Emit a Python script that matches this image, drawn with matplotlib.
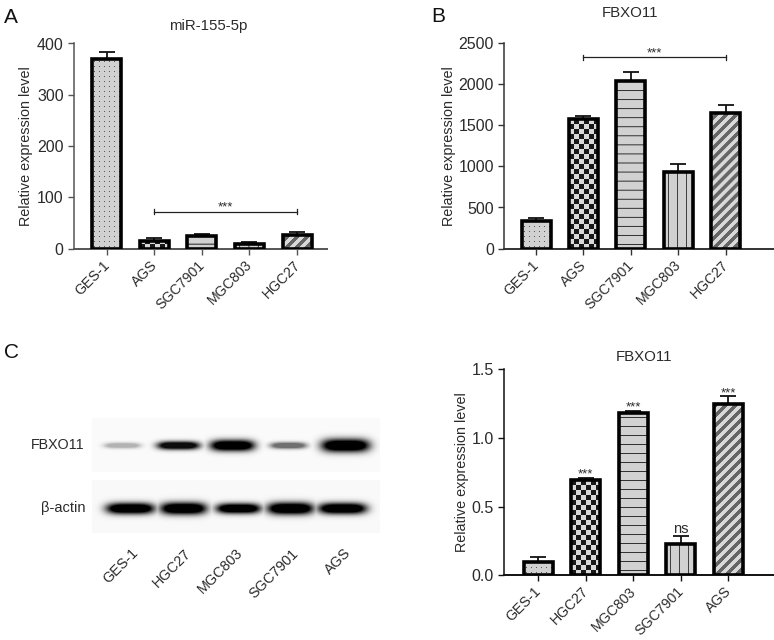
import numpy as np
import matplotlib
matplotlib.use("Agg")
import matplotlib.pyplot as plt
from matplotlib.transforms import ScaledTranslation

plt.rcParams["font.family"] = ["Liberation Sans", "DejaVu Sans"]

W, H = 774, 640

# panel A
a_labels = ["GES-1", "AGS", "SGC7901", "MGC803", "HGC27"]
a_values = [370, 15, 24, 10, 27]
a_errors = [13, 5, 5, 4, 6]
a_patterns = ["dots", "checker", "hlines", "vlines", "diag"]

# panel B
b_labels = ["GES-1", "AGS", "SGC7901", "MGC803", "HGC27"]
b_values = [334, 1572, 2041, 925, 1641]
b_errors = [34, 42, 102, 99, 102]
b_patterns = ["dots", "checker", "hlines", "vlines", "diag"]

# panel C, bar chart
c_labels = ["GES-1", "HGC27", "MGC803", "SGC7901", "AGS"]
c_values = [0.099, 0.691, 1.179, 0.227, 1.244]
c_errors = [0.032, 0.020, 0.021, 0.062, 0.059]
c_patterns = ["dots", "checker", "hlines", "vlines", "diag"]
c_marks = ["", "***", "***", "ns", "***"]

# panel C, blot bands (one per lane)
blot_labels = ["GES-1", "HGC27", "MGC803", "SGC7901", "AGS"]
fbxo_strength = [0.28, 0.95, 1.0, 0.55, 1.0]
fbxo_centers = [122, 178, 232, 288, 345]
fbxo_widths = [18, 21, 22, 18, 24]
fbxo_heights = [2.8, 4.0, 5.5, 3.2, 6.5]
actin_strength = [1.0, 1.0, 1.0, 1.0, 1.0]
actin_centers = [130, 183, 238, 290, 342]
actin_widths = [24, 23, 22, 23, 24]
actin_heights = [5.5, 6.0, 5.0, 6.0, 5.5]

TEXT = "#2b2b2b"


def px_axes(fig, left, top, right, bottom):
    return fig.add_axes([left / W, 1 - bottom / H, (right - left) / W, (bottom - top) / H])


def pattern_image(kind, w_px, h_px):
    # grey level image of the bar filling, one value per pixel
    x, y = np.meshgrid(np.arange(w_px), np.arange(h_px))
    img = np.full((h_px, w_px), 0.82)
    if kind == "dots":
        img[(x % 5 == 2) & (y % 5 == 2)] = 0.35
    elif kind == "checker":
        img = np.where((x // 5 + y // 5) % 2 == 0, 0.1, 0.85)
    elif kind == "hlines":
        img[y % 9 == 4] = 0.2
    elif kind == "vlines":
        img[x % 9 == 4] = 0.25
    elif kind == "diag":
        img = np.where((x - y) % 10 < 5, 0.4, 0.85)
    return img


def draw_bars(ax, labels, values, errors, patterns, ymax, yticks, ytick_labels, spine_color, ax_w, ax_h, x_first, x_step, ylabel_px):
    xlim = (-x_first / x_step, (ax_w - x_first) / x_step)
    xs = np.arange(len(values))
    bar_w = 29 / x_step
    for x, v, e, kind in zip(xs, values, errors, patterns):
        ax.errorbar(x, v, yerr=[[0], [e]], color="#111111", lw=1.3, capsize=5.8, capthick=1.3, zorder=2)
        w_px = 29
        h_px = max(int(round(v / ymax * ax_h)), 1)
        ax.imshow(pattern_image(kind, w_px, h_px), cmap="gray", vmin=0, vmax=1, aspect="auto",
                  extent=(x - bar_w / 2, x + bar_w / 2, 0, v), origin="lower", zorder=3)
        ax.bar(x, v, width=bar_w, facecolor="none", edgecolor="#000000", linewidth=2.6, zorder=4)
    ax.set_xlim(xlim)
    ax.set_ylim(0, ymax)
    ax.set_yticks(yticks)
    ax.set_yticklabels(ytick_labels, fontsize=11.5, color=TEXT)
    ax.set_xticks(xs)
    ax.set_xticklabels(labels, rotation=45, ha="right", va="top", rotation_mode="anchor", fontsize=10.2, color=TEXT)
    ax.set_ylabel("Relative expression level", fontsize=10.4, color=TEXT)
    ax.yaxis.set_label_coords(ylabel_px / ax_w, 0.5)
    ax.tick_params(axis="both", length=4.5, width=1.0, color=spine_color, pad=3)
    ax.tick_params(axis="x", pad=2)
    shift = ScaledTranslation(-3 / 72, 0, ax.figure.dpi_scale_trans)
    for lbl in ax.get_xticklabels():
        lbl.set_transform(lbl.get_transform() + shift)
    for side in ["top", "right"]:
        ax.spines[side].set_visible(False)
    ax.spines["left"].set_color(spine_color)
    ax.spines["left"].set_linewidth(1.1)
    ax.spines["bottom"].set_color(spine_color)
    ax.spines["bottom"].set_linewidth(1.4)
    ax.patch.set_alpha(0)


def bracket(ax, x1, x2, y, height):
    ax.plot([x1, x2], [y, y], color="#222222", lw=0.9, zorder=5)
    for x in [x1, x2]:
        ax.plot([x, x], [y - height, y + height], color="#222222", lw=0.9, zorder=5)


def band_layer(xx, yy, center_y, centers, widths, heights, strength):
    layer = np.zeros_like(xx, dtype=float)
    for cx, bw, bh, s in zip(centers, widths, heights, strength):
        band = np.exp(-(np.abs(xx - cx) / bw) ** 4 - (np.abs(yy - center_y) / bh) ** 2)
        layer = np.maximum(layer, s * np.clip(band * 1.5, 0, 1))
    return layer


fig = plt.figure(figsize=(W / 100, H / 100), dpi=100)

# A
ax_a = px_axes(fig, 74, 43.5, 327, 248.7)
draw_bars(ax_a, a_labels, a_values, a_errors, a_patterns, 400, [0, 100, 200, 300, 400],
          ["0", "100", "200", "300", "400"], "#555555", 253, 205.2, 32.7, 47.6, -41)
bracket(ax_a, 1, 4, 72, 5)
ax_a.text(2.5, 81, "***", ha="center", va="center", fontsize=9.5, color=TEXT)
fig.text(208 / W, 1 - 26 / H, "miR-155-5p", ha="center", va="center", fontsize=10.8, color=TEXT)

# B
ax_b = px_axes(fig, 504.3, 42.7, 774, 248.7)
draw_bars(ax_b, b_labels, b_values, b_errors, b_patterns, 2500, [0, 500, 1000, 1500, 2000, 2500],
          ["0", "500", "1000", "1500", "2000", "2500"], "#333333", 269.7, 206, 31.7, 47.4, -48)
bracket(ax_b, 1, 4, 2322, 30)
ax_b.text(2.5, 2370, "***", ha="center", va="center", fontsize=9.5, color=TEXT)
fig.text(630 / W, 1 - 13 / H, "FBXO11", ha="center", va="center", fontsize=10.8, color=TEXT)

# C bars
ax_c = px_axes(fig, 504, 369.3, 774, 575.3)
draw_bars(ax_c, c_labels, c_values, c_errors, c_patterns, 1.5, [0, 0.5, 1.0, 1.5],
          ["0.0", "0.5", "1.0", "1.5"], "#111111", 270, 206, 34, 47.5, -35)
for x, v, e, mark in zip(range(len(c_values)), c_values, c_errors, c_marks):
    if mark == "ns":
        ax_c.text(x, v + e + 0.05, mark, ha="center", va="center", fontsize=10.5, color=TEXT)
    elif mark:
        ax_c.text(x, v + e + 0.022, mark, ha="center", va="center", fontsize=9.5, color=TEXT)
fig.text(644 / W, 1 - 357 / H, "FBXO11", ha="center", va="center", fontsize=10.8, color=TEXT)

# C blot
ax_blot = px_axes(fig, 92, 418, 380, 533)
xx, yy = np.meshgrid(np.arange(92, 380), np.arange(418, 533))
blot = np.ones_like(xx, dtype=float)
blot[(yy < 472)] = 0.98
blot[(yy >= 480)] = 0.975
dark = band_layer(xx, yy, 445, fbxo_centers, fbxo_widths, fbxo_heights, fbxo_strength)
dark = np.maximum(dark, band_layer(xx, yy, 508, actin_centers, actin_widths, actin_heights, actin_strength))
ax_blot.imshow(blot * (1 - dark), cmap="gray", vmin=0, vmax=1, aspect="auto", interpolation="bilinear")
ax_blot.axis("off")

fig.text(85 / W, 1 - 445 / H, "FBXO11", ha="right", va="center", fontsize=10.3, color=TEXT)
fig.text(86 / W, 1 - 508 / H, "β-actin", ha="right", va="center", fontsize=10.5, color=TEXT)
label_ends = [131, 184, 236, 291, 344]
for name, x_end in zip(blot_labels, label_ends):
    fig.text(x_end / W, 1 - 546 / H, name, rotation=45, ha="right", va="top", rotation_mode="anchor",
             fontsize=10.4, color=TEXT)

# panel letters
fig.text(4 / W, 1 - 17.5 / H, "A", fontsize=15, va="center", color="#111111")
fig.text(431 / W, 1 - 17 / H, "B", fontsize=15, va="center", color="#111111")
fig.text(4 / W, 1 - 353 / H, "C", fontsize=15, va="center", color="#111111")

plt.savefig("out.png", dpi=100)
